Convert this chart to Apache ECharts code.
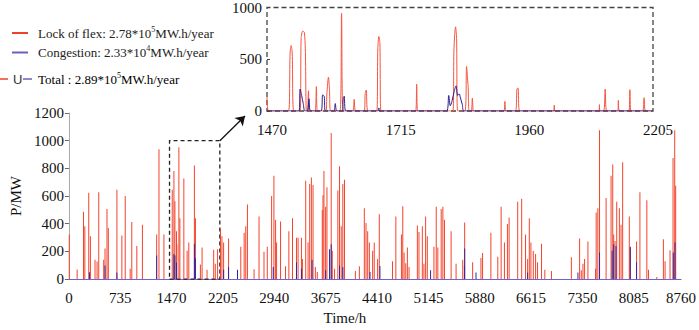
<!DOCTYPE html>
<html>
<head>
<meta charset="utf-8">
<title>Lock of flex and congestion</title>
<script src="https://cdn.jsdelivr.net/npm/echarts@6/dist/echarts.min.js"></script>
<style>
  html, body { margin: 0; padding: 0; background: #fff; }
  #chart { width: 699px; height: 330px; }
</style>
</head>
<body>
<div id="chart"></div>
<script>
// tick labels
var hourTicks = [0, 735, 1470, 2205, 2940, 3675, 4410, 5145, 5880, 6615, 7350, 8085, 8760];
var powerTicks = [0, 200, 400, 600, 800, 1000, 1200];
var zoomHourTicks = [1470, 1715, 1960, 2205];
var zoomPowerTicks = [0, 500, 1000];

// zoomed window marked in the main plot
var zoomBox = [1440, 0, 2160, 1000];

// main plot: peak of each event [hour, MW]
var flexPeaks = [
  [5, 320], [118, 70], [209, 487], [228, 381], [284, 623], [308, 310], [374, 139], [403, 127],
  [427, 628], [498, 139], [517, 221], [545, 506], [564, 369], [687, 645], [758, 315], [806, 600],
  [877, 75], [900, 412], [972, 240], [1052, 393], [1256, 322], [1289, 939], [1360, 322],
  [1479, 645], [1503, 781], [1517, 562], [1540, 346], [1545, 252], [1574, 953], [1588, 440],
  [1645, 727], [1692, 205], [1716, 264], [1796, 821], [1811, 440], [1882, 106], [1906, 228],
  [1977, 68], [2072, 212], [2095, 110], [2128, 216], [2170, 367], [2190, 310], [2214, 264],
  [2285, 294], [2413, 64], [2460, 233], [2508, 334], [2531, 381], [2555, 539], [2650, 71],
  [2721, 452], [2792, 198], [2839, 233], [2901, 600], [2934, 746], [2958, 428], [2972, 264],
  [3029, 416], [3100, 92], [3148, 346], [3200, 440], [3257, 299], [3280, 299], [3328, 299],
  [3342, 146], [3389, 711], [3423, 264], [3446, 687], [3470, 734], [3494, 680], [3527, 87],
  [3555, 52], [3626, 499], [3636, 605], [3650, 781], [3674, 522], [3693, 664], [3754, 1056],
  [3769, 205], [3802, 75], [3849, 640], [3873, 816], [3897, 381], [3920, 687], [3944, 718],
  [4100, 59], [4157, 92], [4228, 511], [4252, 405], [4276, 346], [4300, 264], [4347, 205],
  [4370, 264], [4418, 146], [4442, 468], [4631, 129], [4679, 452], [4759, 322], [4778, 527],
  [4797, 193], [4821, 115], [4844, 228], [4868, 87], [4987, 388], [5010, 341], [5058, 381],
  [5081, 110], [5105, 452], [5129, 310], [5224, 233], [5257, 522], [5280, 228], [5328, 506],
  [5352, 522], [5375, 428], [5470, 346], [5541, 110], [5636, 139], [5664, 409], [5778, 122],
  [5897, 153], [5920, 188], [6039, 334], [6138, 162], [6186, 522], [6233, 264], [6276, 398],
  [6300, 445], [6423, 558], [6480, 581], [6535, 322], [6565, 146], [6589, 440], [6612, 264],
  [6646, 205], [6679, 181], [6707, 122], [6764, 256], [6811, 68], [6906, 59], [7191, 158],
  [7309, 294], [7333, 64], [7357, 110], [7380, 146], [7428, 271], [7537, 75], [7546, 482],
  [7570, 511], [7594, 1075], [7688, 586], [7759, 746], [7783, 828], [7797, 322], [7816, 275],
  [7840, 558], [7878, 511], [7902, 393], [7925, 845], [8020, 452], [8034, 228], [8124, 271],
  [8172, 628], [8271, 569], [8295, 68], [8414, 16], [8508, 287], [8532, 129], [8603, 209],
  [8646, 875], [8670, 1075], [8684, 675]
];
var congestionPeaks = [
  [294, 50], [517, 99], [687, 47], [1256, 170], [1503, 181], [1517, 170], [1540, 120],
  [1796, 256], [1811, 150], [2214, 68], [2285, 87], [2413, 68], [2925, 87], [3257, 122],
  [3328, 75], [3480, 139], [3674, 64], [3730, 216], [3754, 252], [3873, 99], [3920, 87],
  [4309, 52], [4451, 94], [5176, 64], [5660, 99], [5664, 221], [5826, 47], [6565, 47],
  [7285, 47], [7594, 193], [7774, 205], [7797, 252], [7830, 240], [8034, 233], [8124, 122],
  [8650, 193], [8674, 264]
];

// inset: hourly readings [hour, MW], 1470-2205 h
var flexZoom = [
  [1470, 135], [1473, 0],
  [1511, 0], [1514, 560], [1516, 632], [1518, 560], [1521, 0],
  [1533, 0], [1535, 700], [1538, 772], [1541, 760], [1543, 600], [1545, 0],
  [1547, 0], [1549, 196], [1551, 0],
  [1561, 0], [1564, 237], [1566, 0],
  [1582, 0], [1584, 165], [1587, 327], [1589, 200], [1591, 0],
  [1609, 0], [1612, 944], [1615, 0],
  [1633, 0], [1636, 112], [1639, 0],
  [1655, 0], [1657, 170], [1659, 202], [1662, 0],
  [1679, 0], [1681, 600], [1683, 720], [1685, 650], [1687, 0],
  [1753, 0], [1755, 259], [1757, 0],
  [1824, 0], [1826, 600], [1829, 813], [1831, 700], [1833, 0],
  [1847, 0], [1850, 430], [1852, 300], [1853, 243], [1855, 0],
  [1859, 0], [1861, 125], [1862, 47], [1863, 0],
  [1921, 0], [1923, 93], [1925, 0],
  [1943, 0], [1946, 215], [1948, 221], [1951, 0],
  [2016, 0], [2017, 56], [2018, 0],
  [2102, 0], [2103, 62], [2104, 0],
  [2111, 0], [2114, 212], [2117, 0],
  [2138, 0], [2139, 103], [2141, 0],
  [2159, 0], [2161, 206], [2163, 0],
  [2185, 0], [2188, 128], [2191, 0], [2205, 0]
];
var congestionZoom = [
  [1470, 0], [1531, 0], [1533, 212], [1536, 150], [1539, 72], [1542, 0],
  [1547, 0], [1550, 118], [1553, 0],
  [1573, 0], [1576, 156], [1579, 140], [1581, 0],
  [1597, 0], [1600, 72], [1603, 0],
  [1614, 0], [1615, 109], [1617, 143], [1620, 0],
  [1682, 0], [1683, 30], [1684, 0],
  [1812, 0], [1816, 150], [1819, 50], [1822, 90], [1826, 180], [1830, 243], [1833, 150],
  [1836, 165], [1838, 134], [1842, 60], [1845, 0], [2205, 0]
];

var serif = "'Liberation Serif', 'Times New Roman', serif";
var red = "#f3442c";
var navy = "#35289a";

// 刻度数字不要千分位逗号
function plain(v) {
  return String(v);
}

var chart = echarts.init(document.getElementById("chart"), null, { renderer: "svg" });

// 图例文字, 上标用 rich
var legendRich = {
  a: { fontFamily: serif, fontSize: 13, color: "#222", lineHeight: 16 },
  p: { fontFamily: serif, fontSize: 13, color: "#222", lineHeight: 16, padding: [0, 0, 0, 5] },
  s: { fontFamily: serif, fontSize: 8, color: "#222", lineHeight: 9, verticalAlign: "top" }
};

chart.setOption({
  animation: false,
  grid: [
    { left: 66, right: 17, top: 113, bottom: 48 },
    { left: 267, right: 46, top: 4, bottom: 219 }
  ],
  legend: {
    orient: "vertical",
    left: 12,
    top: 25,
    padding: 0,
    itemWidth: 16,
    itemHeight: 2,
    itemGap: 5,
    icon: "rect",
    data: [
      { name: "Lock of flex", itemStyle: { color: "#f0402a" } },
      { name: "Congestion", itemStyle: { color: "#6a62b8" } }
    ],
    formatter: function (name) {
      if (name === "Lock of flex") return "{p|Lock of flex: 2.78*10}{s|5}{a|MW.h/year}";
      return "{p|Congestion: 2.33*10}{s|4}{a|MW.h/year}";
    },
    textStyle: { rich: legendRich }
  },
  graphic: [
    { type: "line", shape: { x1: 0, y1: 79, x2: 8, y2: 79 }, style: { stroke: "#f0402a", lineWidth: 1.5 } },
    { type: "text", x: 13, y: 79, style: { text: "U", font: "13px 'Liberation Sans'", fill: "#333", verticalAlign: "middle" } },
    { type: "line", shape: { x1: 23, y1: 79, x2: 32, y2: 79 }, style: { stroke: "#6a62b8", lineWidth: 1.5 } },
    {
      type: "text", x: 38, y: 79,
      style: { text: "{a|Total : 2.89*10}{s|5}{a|MW.h/year}", rich: legendRich, verticalAlign: "middle" }
    }
  ],
  xAxis: [
    {
      type: "value",
      gridIndex: 0,
      min: hourTicks[0],
      max: hourTicks[hourTicks.length - 1],
      interval: hourTicks[1] - hourTicks[0],
      name: "Time/h",
      nameLocation: "middle",
      nameGap: 30,
      nameTextStyle: { fontFamily: serif, fontSize: 15, color: "#111", padding: [0, 60, 0, 0] },
      axisLine: { lineStyle: { color: "#6f63d2", width: 1.2 } },
      axisTick: { show: false },
      splitLine: { show: false },
      axisLabel: { fontFamily: serif, fontSize: 15, color: "#111", margin: 11, formatter: plain }
    },
    {
      type: "value",
      gridIndex: 1,
      min: zoomHourTicks[0],
      max: zoomHourTicks[zoomHourTicks.length - 1],
      interval: zoomHourTicks[1] - zoomHourTicks[0],
      axisLine: { show: false },
      axisTick: { show: false },
      splitLine: { show: false },
      axisLabel: { fontFamily: serif, fontSize: 15, color: "#111", margin: 11, padding: [0, 0, 0, 10], formatter: plain }
    }
  ],
  yAxis: [
    {
      type: "value",
      gridIndex: 0,
      min: powerTicks[0],
      max: powerTicks[powerTicks.length - 1],
      interval: powerTicks[1] - powerTicks[0],
      name: "P/MW",
      nameLocation: "middle",
      nameGap: 40,
      nameTextStyle: { fontFamily: serif, fontSize: 15, color: "#111" },
      axisLine: { show: true, lineStyle: { color: "#aaa" } },
      axisTick: { show: true, length: 4, lineStyle: { color: "#666" } },
      splitLine: { show: false },
      axisLabel: { fontFamily: serif, fontSize: 15, color: "#111", margin: 5, formatter: plain }
    },
    {
      type: "value",
      gridIndex: 1,
      min: zoomPowerTicks[0],
      max: zoomPowerTicks[zoomPowerTicks.length - 1],
      interval: zoomPowerTicks[1] - zoomPowerTicks[0],
      axisLine: { show: false },
      axisTick: { show: true, inside: true, length: 3, lineStyle: { color: "#444" } },
      splitLine: { show: false },
      axisLabel: { fontFamily: serif, fontSize: 15, color: "#111", margin: 5, formatter: plain }
    }
  ],
  series: [
    {
      name: "Lock of flex",
      type: "bar",
      xAxisIndex: 0,
      yAxisIndex: 0,
      data: flexPeaks,
      barWidth: 1,
      barGap: "-100%",
      itemStyle: { color: red },
      // 放大区域的虚线框
      markArea: {
        silent: true,
        label: { show: false },
        itemStyle: { color: "rgba(0,0,0,0)", borderColor: "#222", borderWidth: 1.3, borderType: [4, 3] },
        data: [[{ xAxis: zoomBox[0], yAxis: zoomBox[1] }, { xAxis: zoomBox[2], yAxis: zoomBox[3] }]]
      },
      // 指向小图的箭头
      markLine: {
        silent: true,
        symbol: ["none", "arrow"],
        symbolSize: 9,
        label: { show: false },
        lineStyle: { color: "#111", type: "solid", width: 1.3 },
        data: [[{ coord: [zoomBox[2], zoomBox[3]] }, { x: 245, y: 116 }]]
      }
    },
    {
      name: "Congestion",
      type: "bar",
      xAxisIndex: 0,
      yAxisIndex: 0,
      data: congestionPeaks,
      barWidth: 1,
      barGap: "-100%",
      itemStyle: { color: navy }
    },
    {
      name: "Lock of flex",
      type: "line",
      xAxisIndex: 1,
      yAxisIndex: 1,
      data: flexZoom,
      symbol: "none",
      smooth: 0.3,
      lineStyle: { color: "#f4553f", width: 1 },
      itemStyle: { color: red },
      markArea: {
        silent: true,
        label: { show: false },
        itemStyle: { color: "rgba(0,0,0,0)", borderColor: "#444", borderWidth: 1.3, borderType: [5, 3] },
        data: [[
          { xAxis: zoomHourTicks[0], yAxis: zoomPowerTicks[0] },
          { xAxis: zoomHourTicks[zoomHourTicks.length - 1], yAxis: zoomPowerTicks[zoomPowerTicks.length - 1] }
        ]]
      }
    },
    {
      name: "Congestion",
      type: "line",
      xAxisIndex: 1,
      yAxisIndex: 1,
      data: congestionZoom,
      symbol: "none",
      smooth: 0.3,
      lineStyle: { color: "#2b1f8c", width: 1 },
      itemStyle: { color: navy }
    }
  ]
});
</script>
</body>
</html>
